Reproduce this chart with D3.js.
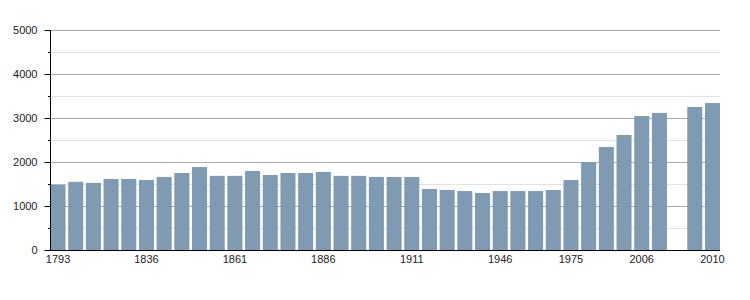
<!DOCTYPE html>
<html>
<head>
<meta charset="utf-8">
<script src="https://cdn.jsdelivr.net/npm/d3@7"></script>
<style>
  body { margin: 0; background: #fff; }
  text { font-family: "Liberation Sans", Arial, sans-serif; font-size: 11px; fill: #222; }
</style>
</head>
<body>
<div id="chart"></div>
<script>
// census years (2008 has no figure, left as an empty slot)
const years = [1793, 1800, 1806, 1821, 1831, 1836, 1841, 1846, 1851, 1856,
  1861, 1866, 1872, 1876, 1881, 1886, 1891, 1896, 1901, 1906,
  1911, 1921, 1926, 1931, 1936, 1946, 1954, 1962, 1968, 1975,
  1982, 1990, 1999, 2006, 2007, 2008, 2009, 2010];
const population = [1490, 1550, 1525, 1615, 1615, 1590, 1660, 1750, 1885, 1685,
  1685, 1795, 1705, 1750, 1750, 1775, 1685, 1685, 1660, 1660,
  1660, 1385, 1365, 1340, 1295, 1340, 1340, 1340, 1365, 1590,
  2000, 2340, 2615, 3045, 3115, null, 3250, 3340];
const labelYears = [1793, 1836, 1861, 1886, 1911, 1946, 1975, 2006, 2010];
const yTicks = [0, 1000, 2000, 3000, 4000, 5000];
const yMinor = [500, 1500, 2500, 3500, 4500];

const margin = { top: 30, right: 30, bottom: 50, left: 50 },
  width = 750,
  height = 300;

const svg = d3.select("#chart")
  .append("svg")
  .attr("width", width)
  .attr("height", height);

const x = d3.scaleBand()
  .domain(years)
  .range([margin.left + 0.5, width - margin.right])
  .paddingInner(0.15)
  .paddingOuter(0);

const y = d3.scaleLinear()
  .domain([0, 5000])
  .range([height - margin.bottom, margin.top]);

// minor gridlines
svg.append("g")
  .selectAll("line")
  .data(yMinor)
  .join("line")
  .attr("x1", margin.left)
  .attr("x2", width - margin.right)
  .attr("y1", d => Math.round(y(d)) + 0.5)
  .attr("y2", d => Math.round(y(d)) + 0.5)
  .attr("stroke", "#e2e2e2");

// major gridlines
svg.append("g")
  .selectAll("line")
  .data(yTicks.slice(1))
  .join("line")
  .attr("x1", margin.left)
  .attr("x2", width - margin.right)
  .attr("y1", d => Math.round(y(d)) + 0.5)
  .attr("y2", d => Math.round(y(d)) + 0.5)
  .attr("stroke", "#aaaaaa");

// bars
const data = years.map((yr, i) => ({ year: yr, value: population[i] }))
  .filter(d => d.value != null);

svg.append("g")
  .selectAll("rect")
  .data(data)
  .join("rect")
  .attr("x", d => x(d.year))
  .attr("width", x.bandwidth())
  .attr("y", d => y(d.value))
  .attr("height", d => y(0) - y(d.value))
  .attr("fill", "#7f9ab3");

// y axis
const yAxis = svg.append("g")
  .attr("transform", `translate(${margin.left + 0.5}, 0)`)
  .call(d3.axisLeft(y).tickValues(yTicks).tickSize(6).tickPadding(7).tickFormat(d3.format("d")));
yAxis.select(".domain").attr("stroke", "#000").attr("d", `M0,${y(5000)}V${y(0)}`);
yAxis.selectAll(".tick line").attr("stroke", "#000");
yAxis.selectAll("text").attr("fill", "#222").style("font-size", "11px");

// minor y ticks
svg.append("g")
  .selectAll("line")
  .data(yMinor)
  .join("line")
  .attr("x1", margin.left - 2)
  .attr("x2", margin.left)
  .attr("y1", d => Math.round(y(d)) + 0.5)
  .attr("y2", d => Math.round(y(d)) + 0.5)
  .attr("stroke", "#000");

// x axis
const xAxis = svg.append("g")
  .attr("transform", `translate(0, ${y(0) + 0.5})`)
  .call(d3.axisBottom(x).tickValues(labelYears).tickSize(0).tickPadding(5));
xAxis.select(".domain").attr("stroke", "#000").attr("d", `M${margin.left - 5},0H${width - margin.right}`);
xAxis.selectAll("text").attr("fill", "#222").style("font-size", "11px");
</script>
</body>
</html>
